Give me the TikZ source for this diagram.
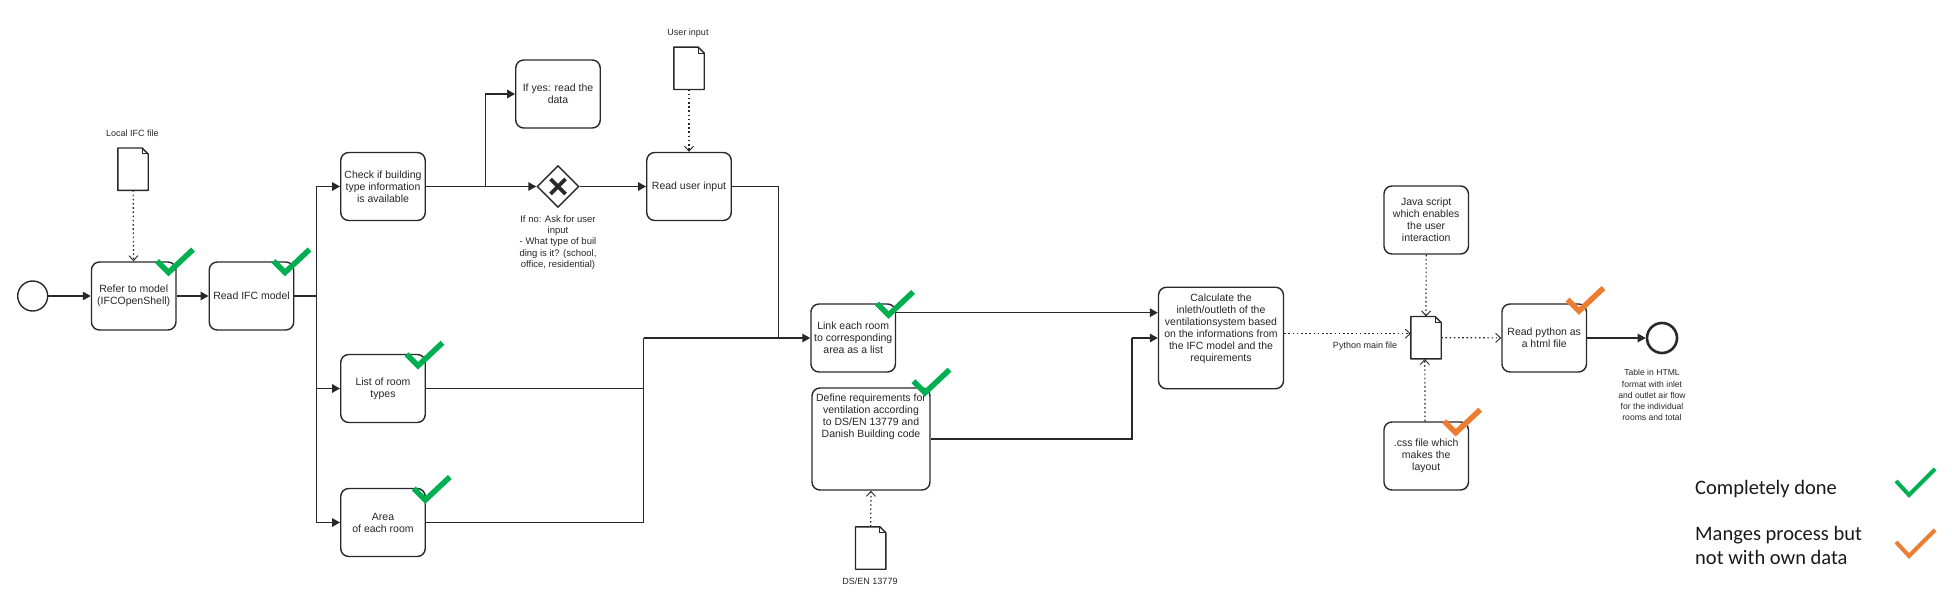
\documentclass[tikz,border=0pt]{standalone}
\usepackage{fontspec}
\setmainfont{Liberation Sans}
\newfontfamily\legendfont{Carlito}
\usetikzlibrary{arrows.meta, shapes.geometric, positioning, calc}
\definecolor{linedark}{RGB}{40,40,44}
\definecolor{tickgreen}{HTML}{00B050}
\definecolor{tickorange}{HTML}{ED7D31}

\begin{document}
\begin{tikzpicture}[
    x=1pt, y=-1pt,
    taskbox/.style={rectangle, draw=linedark, line width=1.4pt, fill=white,
                    minimum width=84.5pt, minimum height=68pt, inner sep=0pt,
                    align=center, rounded corners=8pt, text=black!85,
                    font=\fontsize{10.5}{12}\selectfont},
    docbox/.style={rectangle, minimum width=30pt, minimum height=42pt, inner sep=0pt},
    docline/.style={draw=linedark, line width=1.4pt, fill=white, line join=round},
    smalltext/.style={align=center, inner sep=0pt, text=black!85,
                      font=\fontsize{9}{11}\selectfont},
    eventnode/.style={circle, draw=linedark, line width=1.4pt, fill=white,
                      minimum size=30pt, inner sep=0pt},
    gatenode/.style={diamond, draw=linedark, line width=1.4pt, fill=white,
                     minimum size=42pt, inner sep=0pt},
    plainline/.style={draw=linedark, line width=1.5pt},
    flowarrow/.style={plainline, -{Triangle[length=8pt,width=8.5pt]}},
    dotarrow/.style={draw=linedark, line width=1.2pt, dash pattern=on 1.6pt off 2.6pt,
                     -{Straight Barb[length=5pt,width=9pt,line width=0.9pt]}},
    legendtext/.style={anchor=west, align=left, inner sep=0pt, text=black!90,
                       font=\legendfont\fontsize{20.5}{24.6}\selectfont},
    pics/bigtick/.style={code={\draw[line width=5.5pt, draw=#1]
        (-11.5,-11.5) -- (0,0) -- (24.5,-23);}},
    pics/smalltick/.style={code={\draw[line width=4pt, draw=#1]
        (-13,-14) -- (0,0) -- (26,-26);}}
]
\useasboundingbox (0,0) rectangle (1952,599);
\node[eventnode] (startev) at (32.7, 296) {};
\node[taskbox] (refer) at (133.7, 296) {Refer to model\\(IFCOpenShell)};
\node[taskbox] (readifc) at (251.5, 296) {Read IFC model};
\node[taskbox] (check) at (383, 186.5) {Check if building\\type information\\is available};
\node[taskbox] (listrooms) at (383, 388.5) {List of room\\types};
\node[taskbox] (arearoom) at (383, 522.5) {Area\\of each room};
\node[taskbox] (yesbox) at (558, 94) {If yes: read the\\data};
\node[gatenode] (gate) at (558, 186.5) {};
\node[taskbox] (readuser) at (689, 186.5) {Read user input};
\node[taskbox] (link) at (853.2, 338) {Link each room\\to corresponding\\area as a list};
\node[taskbox, minimum width=118pt, minimum height=102pt] (define) at (871, 439)
    {Define requirements for\\ventilation according\\to DS/EN 13779 and\\Danish Building code\\[35pt]~};
\node[taskbox, minimum width=125pt, minimum height=101.5pt] (calc) at (1221, 338)
    {Calculate the\\inleth/outleth of the\\ventilationsystem based\\on the informations from\\the IFC model and the\\requirements\\[8pt]~};
\node[taskbox] (javabox) at (1426.2, 220) {Java script\\which enables\\the user\\interaction};
\node[taskbox] (cssbox) at (1426.2, 456) {.css file which\\makes the\\layout};
\node[taskbox] (readpy) at (1544.2, 338) {Read python as\\a html file};
\node[eventnode, line width=2.6pt] (endev) at (1662, 338) {};
\node[docbox] (localdoc) at (133, 169.2) {};
\node[docbox] (userdoc) at (689, 68.3) {};
\node[docbox] (pydoc) at (1426, 337.7) {};
\node[docbox] (stddoc) at (870.7, 548) {};
\foreach \d in {localdoc, userdoc, pydoc, stddoc} {
    \draw[docline] (\d.north west) -- ([xshift=-6pt]\d.north east)
        -- ([yshift=-6pt]\d.north east) -- (\d.south east) -- (\d.south west) -- cycle;
    \draw[plainline, line width=1pt] ([xshift=-6pt]\d.north east)
        -- ([xshift=-6pt, yshift=-6pt]\d.north east) -- ([yshift=-6pt]\d.north east);
}
\draw[line width=3.6pt, draw=linedark] ([shift={(-7.5pt,-7.5pt)}]gate.center) -- ([shift={(7.5pt,7.5pt)}]gate.center);
\draw[line width=3.6pt, draw=linedark] ([shift={(-7.5pt,7.5pt)}]gate.center) -- ([shift={(7.5pt,-7.5pt)}]gate.center);
\node[smalltext] (locallbl) at (132.3, 133.7) {Local IFC file};
\node[smalltext] (userlbl) at (688, 32.7) {User input};
\node[smalltext] (stdlbl) at (870, 581.7) {DS/EN 13779};
\node[smalltext] (pylbl) at (1365, 345.7) {Python main file};
\node[smalltext, font=\fontsize{9.5}{11.2}\selectfont, anchor=north] (gatelbl) at (558, 215.5)
    {If no: Ask for user\\input\\- What type of buil\\ding is it? (school,\\office, residential)};
\node[smalltext, font=\fontsize{8.6}{11.1}\selectfont, anchor=north] (endlbl) at (1652, 369.5)
    {Table in HTML\\format with inlet\\and outlet air flow\\for the individual\\rooms and total};
\node[legendtext] (legdone) at (1695, 488.7) {Completely done};
\node[legendtext] (legpart) at (1695, 545.5) {Manges process but\\not with own data};
\coordinate (split) at (316.7, 296);
\coordinate (yesbend) at (485.3, 186.5);
\coordinate (joint) at (643.7, 338);
\coordinate (usermerge) at (778.3, 338);
\coordinate (defbend) at (1132, 338);
\draw[flowarrow] (startev) -- (refer);
\draw[flowarrow] (refer) -- (readifc);
\draw[plainline] (readifc.east) -- (split);
\draw[flowarrow] (split) |- (check.west);
\draw[flowarrow] (split) |- (listrooms.west);
\draw[flowarrow] (split) |- (arearoom.west);
\draw[flowarrow] (check.east) -- (gate.west);
\draw[flowarrow] (yesbend) |- (yesbox.west);
\draw[flowarrow] (gate.east) -- (readuser.west);
\draw[plainline] (readuser.east) -| (usermerge);
\draw[plainline] (listrooms.east) -| (joint);
\draw[plainline] (arearoom.east) -| (joint);
\draw[flowarrow] (joint) -- (link.west);
\draw[flowarrow] ([yshift=25.3pt]link.east) -- ([yshift=25.3pt]link.east -| calc.west);
\draw[plainline] (define.east) -| (defbend);
\draw[flowarrow] (defbend) -- (calc.west);
\draw[flowarrow] (readpy) -- (endev);
\draw[dotarrow] (localdoc) -- (refer);
\draw[dotarrow] (userdoc) -- (readuser);
\draw[dotarrow] (stddoc.north) -- (define.south);
\draw[dotarrow] ([yshift=4.3pt]calc.east) -- ([yshift=4.3pt]calc.east -| pydoc.west);
\draw[dotarrow] (pydoc) -- (readpy);
\draw[dotarrow] (javabox) -- (pydoc);
\draw[dotarrow] ([xshift=-1.2pt]cssbox.north) -- ([xshift=-1.2pt]pydoc.south);
\foreach \tx/\ty in {168.5/272.5, 285/272.5, 418/365.8, 425.3/500, 888.6/315, 925/392.7}
    \pic at (\tx,\ty) {bigtick=tickgreen};
\foreach \tx/\ty in {1579/311, 1455.7/432.7}
    \pic at (\tx,\ty) {bigtick=tickorange};
\pic at (1909,495) {smalltick=tickgreen};
\pic at (1909,556) {smalltick=tickorange};
\end{tikzpicture}
\end{document}
